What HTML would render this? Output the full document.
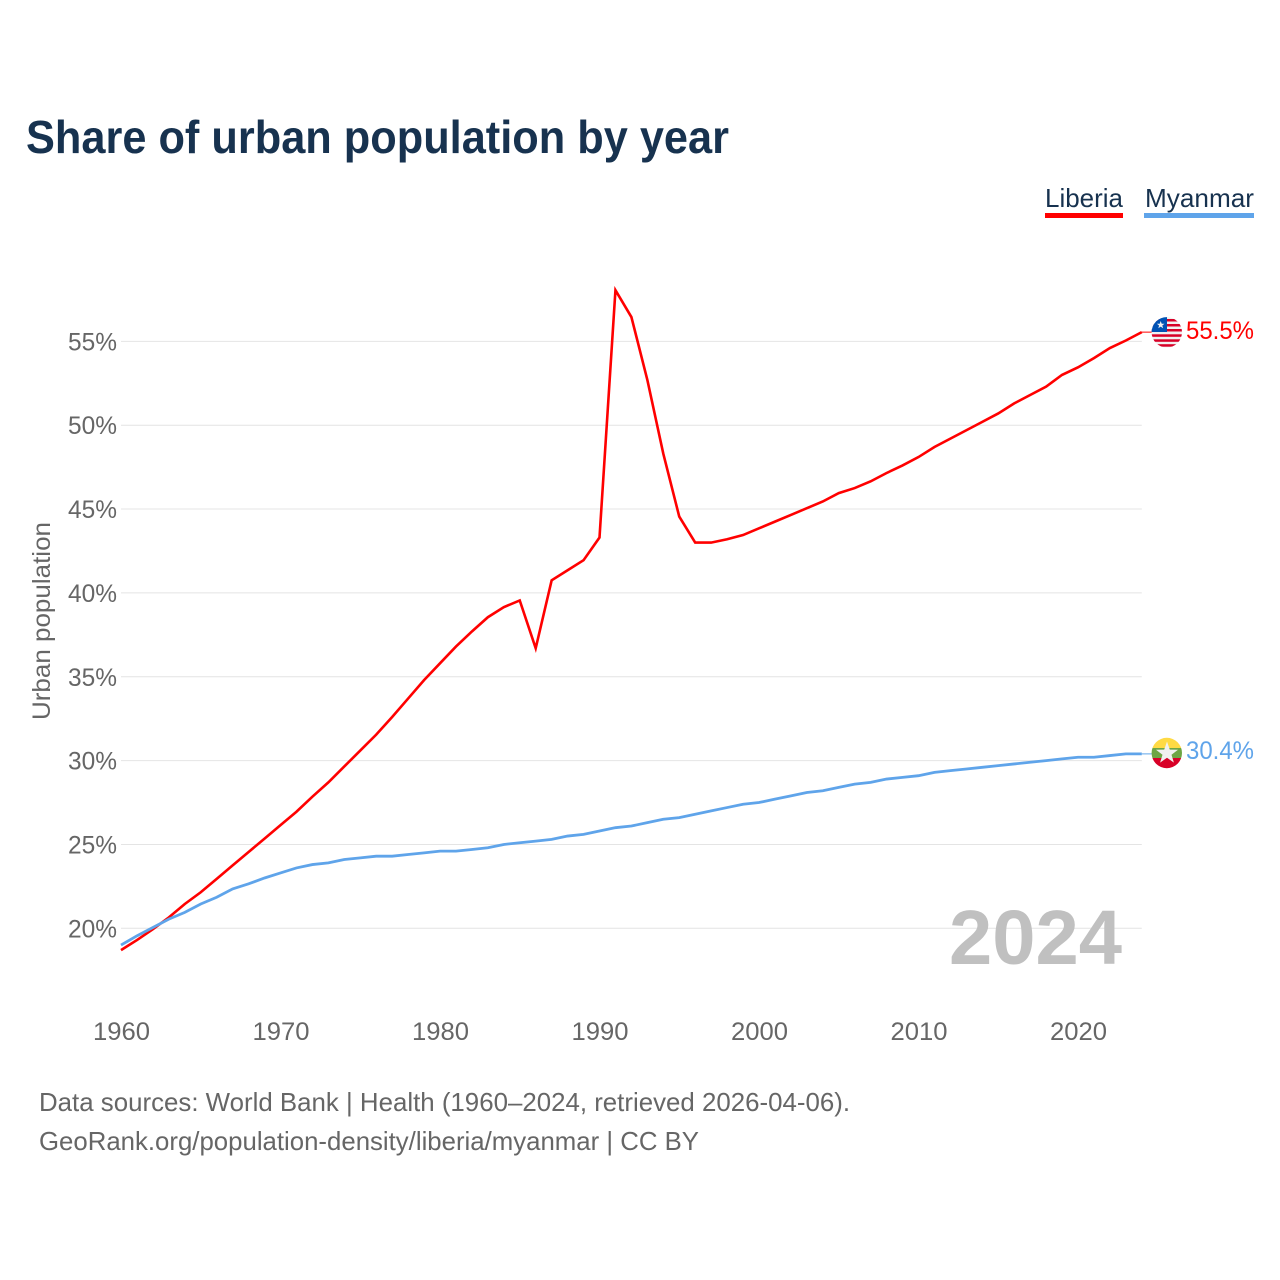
<!DOCTYPE html>
<html lang="en">
<head>
<meta charset="utf-8">
<title>Share of urban population by year</title>
<style>
html,body{margin:0;padding:0;background:#fff;}
svg{display:block;}
text{font-family:"Liberation Sans",sans-serif;}
</style>
</head>
<body>
<svg id="chart" xmlns="http://www.w3.org/2000/svg" width="1280" height="1280" viewBox="0 0 1280 1280">
  <rect x="0" y="0" width="1280" height="1280" fill="#ffffff"/>
  <text x="26" y="153" font-size="46" font-weight="700" fill="#17324f" textLength="703" lengthAdjust="spacingAndGlyphs">Share of urban population by year</text>

  <g>
    <g>
      <text x="1045" y="207" font-size="26" fill="#17324f" textLength="78" lengthAdjust="spacingAndGlyphs">Liberia</text>
      <rect x="1045" y="213" width="78" height="5" fill="#ff0000"/>
    </g>
    <g>
      <text x="1145" y="207" font-size="26" fill="#17324f" textLength="109" lengthAdjust="spacingAndGlyphs">Myanmar</text>
      <rect x="1144" y="213" width="110" height="5" fill="#5fa4ea"/>
    </g>
  </g>

  <g id="grid"></g>
  <g id="yticks"></g>
  <g id="xticks"></g>

  <text transform="translate(50,720) rotate(-90)" x="0" y="0" font-size="25" fill="#666666" textLength="198" lengthAdjust="spacingAndGlyphs">Urban population</text>

  <text x="949" y="964" font-size="77" font-weight="700" fill="#bdbdbd" fill-opacity="0.95" textLength="173" lengthAdjust="spacingAndGlyphs">2024</text>

  <g id="series"></g>

  <defs>
    <clipPath id="flag-clip-liberia"><circle id="clip-lib" cx="1166.8" cy="332.3" r="15.2"/></clipPath>
    <clipPath id="flag-clip-myanmar"><circle id="clip-mya" cx="1166.8" cy="753" r="15.2"/></clipPath>
  </defs>

  <g id="flag-liberia" clip-path="url(#flag-clip-liberia)">
    <rect x="1151" y="316" width="32" height="33" fill="#f0f0f0"/>
    <rect x="1151" y="319" width="32" height="2.5" fill="#d80027"/>
    <rect x="1151" y="324" width="32" height="2.5" fill="#d80027"/>
    <rect x="1151" y="329" width="32" height="2.5" fill="#d80027"/>
    <rect x="1151" y="334.3" width="32" height="2.5" fill="#d80027"/>
    <rect x="1151" y="339.3" width="32" height="2.5" fill="#d80027"/>
    <rect x="1151" y="344.2" width="32" height="2.5" fill="#d80027"/>
    <rect x="1151" y="316" width="16" height="16" fill="#0052b4"/>
    <polygon points="1160.7,321 1161.7,323.7 1164.5,323.8 1162.3,325.5 1163.1,328.2 1160.7,326.6 1158.3,328.2 1159.1,325.5 1156.9,323.8 1159.7,323.7" fill="#f0f0f0"/>
  </g>

  <g id="flag-myanmar" clip-path="url(#flag-clip-myanmar)">
    <rect x="1151" y="737" width="32" height="11" fill="#ffda44"/>
    <rect x="1151" y="748" width="32" height="10" fill="#6da544"/>
    <rect x="1151" y="758" width="32" height="11" fill="#d80027"/>
    <polygon points="1167,741.5 1169.8,749.6 1178,749.7 1171.5,754.7 1173.9,762.6 1167,757.8 1160.1,762.6 1162.5,754.7 1156,749.7 1164.2,749.6" fill="#f0f0f0"/>
  </g>

  <text id="value-liberia" x="1186" y="339" font-size="25" fill="#ff0000" textLength="68" lengthAdjust="spacingAndGlyphs">55.5%</text>
  <text id="value-myanmar" x="1186" y="759" font-size="25" fill="#5fa4ea" textLength="68" lengthAdjust="spacingAndGlyphs">30.4%</text>

  <text x="39" y="1111" font-size="26" fill="#666666" textLength="811" lengthAdjust="spacingAndGlyphs">Data sources: World Bank | Health (1960–2024, retrieved 2026-04-06).</text>
  <text x="39" y="1150" font-size="26" fill="#666666" textLength="660" lengthAdjust="spacingAndGlyphs">GeoRank.org/population-density/liberia/myanmar | CC BY</text>
</svg>

<script>
const startYear = 1960;
const liberiaValues = [
  18.7,19.3,19.95,20.65,21.45,22.15,22.95,23.75,24.55,25.35,
  26.15,26.95,27.85,28.7,29.65,30.6,31.55,32.6,33.7,34.8,
  35.8,36.8,37.7,38.55,39.15,39.55,36.7,40.75,41.35,41.95,
  43.3,58.05,56.45,52.7,48.3,44.55,43.0,43.0,43.2,43.45,
  43.85,44.25,44.65,45.05,45.45,45.95,46.25,46.65,47.15,47.6,
  48.1,48.7,49.2,49.7,50.2,50.7,51.3,51.8,52.3,53.0,
  53.45,54.0,54.6,55.05,55.55
];
const myanmarValues = [
  19.0,19.55,20.05,20.55,20.95,21.45,21.85,22.35,22.65,23.0,
  23.3,23.6,23.8,23.9,24.1,24.2,24.3,24.3,24.4,24.5,
  24.6,24.6,24.7,24.8,25.0,25.1,25.2,25.3,25.5,25.6,
  25.8,26.0,26.1,26.3,26.5,26.6,26.8,27.0,27.2,27.4,
  27.5,27.7,27.9,28.1,28.2,28.4,28.6,28.7,28.9,29.0,
  29.1,29.3,29.4,29.5,29.6,29.7,29.8,29.9,30.0,30.1,
  30.2,30.2,30.3,30.4,30.4
];
const yTickValues = [20,25,30,35,40,45,50,55];
const xTickValues = [1960,1970,1980,1990,2000,2010,2020];

const NS = "http://www.w3.org/2000/svg";
function xScale(year){ return 121 + (year - 1960) * 15.95; }
function yScale(pct){ return 928.3 - (pct - 20) * 16.77; }
function pathFor(values){
  return values.map(function(v,i){
    return (i ? "L" : "M") + xScale(startYear + i).toFixed(2) + " " + yScale(v).toFixed(2);
  }).join(" ");
}

const gridG = document.getElementById("grid");
const yG = document.getElementById("yticks");
yTickValues.forEach(function(t){
  const line = document.createElementNS(NS,"line");
  
  
  line.setAttribute("x1", 121);
  line.setAttribute("x2", xScale(2024));
  line.setAttribute("y1", yScale(t));
  line.setAttribute("y2", yScale(t));
  line.setAttribute("stroke", "#e4e4e4");
  line.setAttribute("stroke-width", "1");
  gridG.appendChild(line);
  const label = document.createElementNS(NS,"text");
  
  
  label.setAttribute("x", 68);
  label.setAttribute("y", yScale(t) + 9);
  label.setAttribute("font-size", "25");
  label.setAttribute("fill", "#666666");
  label.setAttribute("textLength", "49");
  label.setAttribute("lengthAdjust", "spacingAndGlyphs");
  label.textContent = t + "%";
  yG.appendChild(label);
});

const xG = document.getElementById("xticks");
xTickValues.forEach(function(t){
  const label = document.createElementNS(NS,"text");
  
  
  label.setAttribute("x", xScale(t) - 28);
  label.setAttribute("y", 1040);
  label.setAttribute("font-size", "25");
  label.setAttribute("fill", "#666666");
  label.setAttribute("textLength", "57");
  label.setAttribute("lengthAdjust", "spacingAndGlyphs");
  label.textContent = t;
  xG.appendChild(label);
});

const seriesG = document.getElementById("series");

const liberiaLine = document.createElementNS(NS,"path");


liberiaLine.setAttribute("d", pathFor(liberiaValues));
liberiaLine.setAttribute("fill", "none");
liberiaLine.setAttribute("stroke", "#ff0000");
liberiaLine.setAttribute("stroke-width", "2.6");
liberiaLine.setAttribute("stroke-linejoin", "miter");
seriesG.appendChild(liberiaLine);

const myanmarLine = document.createElementNS(NS,"path");


myanmarLine.setAttribute("d", pathFor(myanmarValues));
myanmarLine.setAttribute("fill", "none");
myanmarLine.setAttribute("stroke", "#5fa4ea");
myanmarLine.setAttribute("stroke-width", "2.8");
seriesG.appendChild(myanmarLine);

const liberiaStub = document.createElementNS(NS,"line");


liberiaStub.setAttribute("x1", xScale(2024));
liberiaStub.setAttribute("x2", xScale(2024) + 12);
liberiaStub.setAttribute("y1", yScale(liberiaValues[64]));
liberiaStub.setAttribute("y2", yScale(liberiaValues[64]));
liberiaStub.setAttribute("stroke", "#ff0000");
liberiaStub.setAttribute("stroke-width", "1");
seriesG.appendChild(liberiaStub);

const myanmarStub = document.createElementNS(NS,"line");


myanmarStub.setAttribute("x1", xScale(2024));
myanmarStub.setAttribute("x2", xScale(2024) + 12);
myanmarStub.setAttribute("y1", yScale(myanmarValues[64]));
myanmarStub.setAttribute("y2", yScale(myanmarValues[64]));
myanmarStub.setAttribute("stroke", "#5fa4ea");
myanmarStub.setAttribute("stroke-width", "1");
seriesG.appendChild(myanmarStub);
</script>
</body>
</html>
